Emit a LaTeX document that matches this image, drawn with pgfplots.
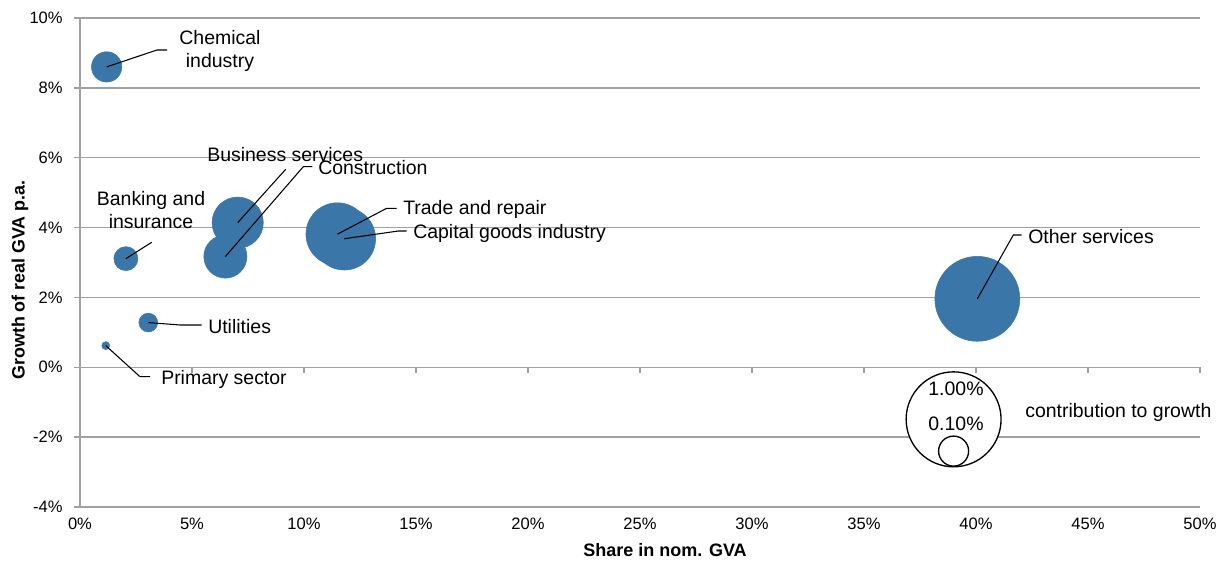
\documentclass[border=0pt]{standalone}
\usepackage{pgfplots}
\pgfplotsset{compat=1.18}
\usepackage{fontspec}
\setmainfont{Liberation Sans}
\definecolor{bubble}{HTML}{3A76A8}
\definecolor{gridc}{HTML}{A0A0A0}

\begin{document}
\begin{tikzpicture}[font=\fontsize{14.6}{17.3}\selectfont]
\begin{axis}[
  at={(0,0)}, anchor=south west,
  scale only axis, width=840pt, height=366.75pt,
  xmin=0, xmax=50, ymin=-4, ymax=10,
  xtick={0,5,...,50}, ytick={-4,-2,...,10},
  axis lines*=left,
  axis line style={draw=gridc, line width=1pt},
  ymajorgrids, grid style={draw=gridc, line width=1pt},
  tick align=outside, major tick length=4.5pt,
  xtick style={draw=none}, ytick style={draw=gridc, line width=1pt},
  xticklabel={\pgfmathprintnumber{\tick}\%},
  yticklabel={\pgfmathprintnumber{\tick}\%},
  ticklabel style={font=\fontsize{12.4}{14}\selectfont},
  yticklabel style={xshift=-5pt},
  /pgf/number format/assume math mode=true,
  clip=false,
]
\pgfplotsinvokeforeach{5,10,...,50}{\draw[gridc, line width=1pt] (axis cs:#1,0) -- (axis cs:#1,-0.17);}

\addplot[scatter, only marks, mark=*,
  scatter/use mapped color={draw=bubble, fill=bubble},
  visualization depends on={35.6*sqrt(\thisrow{c}) \as \rad},
  scatter/@pre marker code/.append style={/tikz/mark size=\rad}]
  table[x=x, y=y] {
x     y     c
1.19  8.60  0.102
2.05  3.11  0.064
6.49  3.17  0.206
7.04  4.14  0.291
3.05  1.28  0.039
1.15  0.62  0.0071
11.49 3.81  0.438
11.80 3.68  0.434
40.06 1.96  0.800
};

\addplot[scatter, only marks, mark=*,
  scatter/use mapped color={draw=black, fill=white},
  mark options={line width=1pt},
  visualization depends on={35.6*sqrt(\thisrow{c}) \as \rad},
  scatter/@pre marker code/.append style={/tikz/mark size=\rad}]
  table[x=x, y=y] {
x     y      c
39.0  -1.49  1.00
39.0  -2.40  0.10
};

\coordinate (chem) at (axis cs:1.19,8.60);
\coordinate (bank) at (axis cs:2.05,3.11);
\coordinate (cons) at (axis cs:6.49,3.17);
\coordinate (busi) at (axis cs:7.04,4.14);
\coordinate (util) at (axis cs:3.05,1.28);
\coordinate (prim) at (axis cs:1.15,0.62);
\coordinate (trad) at (axis cs:11.49,3.81);
\coordinate (capi) at (axis cs:11.80,3.68);
\coordinate (othe) at (axis cs:40.06,1.96);
\end{axis}

\begin{scope}[shift={(-60pt,380.25pt)}, x=0.75pt, y=-0.75pt]
  \draw[line width=0.8pt] (chem) -- (157,50) -- (167,50);
  \draw[line width=0.8pt] (bank) -- (151.7,242.3);
  \draw[line width=0.8pt] (busi) -- (285.7,169.3);
  \draw[line width=0.8pt] (cons) -- (303.3,166.7) -- (312.3,166.7);
  \draw[line width=0.8pt] (trad) -- (386.7,208.3) -- (396.7,208.3);
  \draw[line width=0.8pt] (capi) -- (398.3,231) -- (406.7,231);
  \draw[line width=0.8pt] (othe) -- (1013.3,235) -- (1021.7,235);
  \draw[line width=0.8pt] (util) -- (180,325) -- (201.7,325);
  \draw[line width=0.8pt] (prim) -- (140,376.7) -- (150,376.7);

  \node[align=center, inner sep=0] at (220,51) {Chemical\\industry};
  \node[align=center, inner sep=0] at (151,210) {Banking and\\insurance};
  \node[anchor=west, inner sep=0] at (207,155) {Business services};
  \node[anchor=west, inner sep=0] at (318,168) {Construction};
  \node[anchor=west, inner sep=0] at (403,209) {Trade and repair};
  \node[anchor=west, inner sep=0] at (413,233) {Capital goods industry};
  \node[anchor=west, inner sep=0] at (1028,237) {Other services};
  \node[anchor=west, inner sep=0] at (208,327) {Utilities};
  \node[anchor=west, inner sep=0] at (161,379) {Primary sector};
  \node[inner sep=0] at (956,389) {1.00\%};
  \node[inner sep=0] at (956,424) {0.10\%};
  \node[anchor=west, inner sep=0] at (1025,412) {contribution to growth};

  \node[rotate=90, inner sep=0, font=\fontsize{13.4}{15}\selectfont\bfseries] at (20,280) {Growth of real GVA p.a.};
  \node[inner sep=0, font=\fontsize{13.5}{15}\selectfont\bfseries] at (665,550) {Share in nom. GVA};
\end{scope}

\pgfresetboundingbox
\useasboundingbox (-60pt,-42pt) rectangle (855.75pt,380.25pt);
\end{tikzpicture}
\end{document}
